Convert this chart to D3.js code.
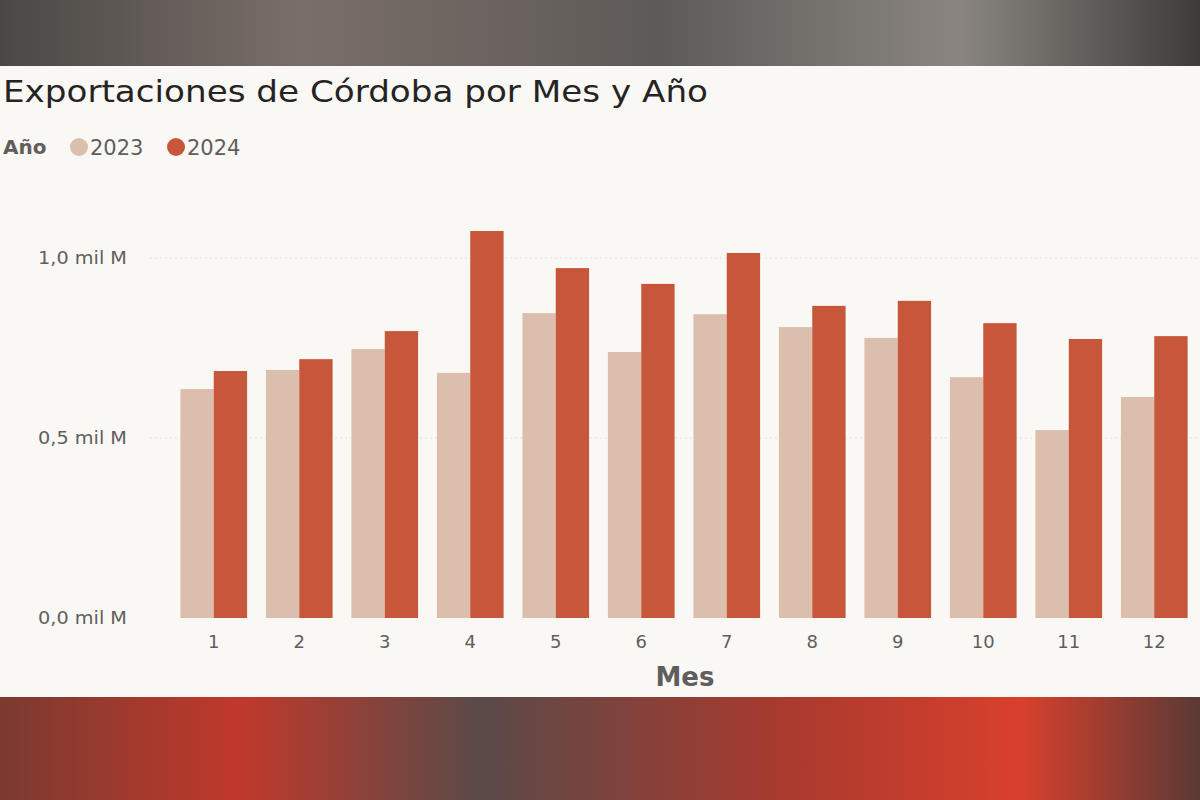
<!DOCTYPE html>
<html><head><meta charset="utf-8">
<script src="https://cdn.jsdelivr.net/npm/d3@7"></script>
<style>body{margin:0;overflow:hidden;font-family:"DejaVu Sans",sans-serif}</style>
</head><body><svg id="chart" width="1200" height="800"></svg>
<script>
const months = [1,2,3,4,5,6,7,8,9,10,11,12];
const years = ["2023","2024"];
const values2023 = [0.636,0.689,0.747,0.681,0.847,0.739,0.844,0.808,0.778,0.669,0.522,0.614];
const values2024 = [0.686,0.719,0.797,1.075,0.972,0.928,1.014,0.867,0.881,0.819,0.775,0.783];
const yTicks = [0, 0.5, 1.0];
const colors = {"2023":"#dbbfac","2024":"#c6573a"};

const svg = d3.select('#chart');

// blurred photo-like backdrop
const defs = svg.append('defs');
const gTop = defs.append('linearGradient').attr('id','topbg');
[['0%','#4a4845'],['25%','#7a6e68'],['55%','#5e5a57'],['80%','#8a8580'],['100%','#3e3c3a']]
    .forEach(s => gTop.append('stop').attr('offset', s[0]).attr('stop-color', s[1]));
const gBot = defs.append('linearGradient').attr('id','botbg');
[['0%','#7a3a30'],['20%','#c0392b'],['40%','#5a4a48'],['65%','#a83a2e'],['85%','#d8402c'],['100%','#5a3a35']]
    .forEach(s => gBot.append('stop').attr('offset', s[0]).attr('stop-color', s[1]));
svg.append('rect').attr('width',1200).attr('height',66).attr('fill','url(#topbg)');
svg.append('rect').attr('y',697).attr('width',1200).attr('height',103).attr('fill','url(#botbg)');
svg.append('rect').attr('y',66).attr('width',1200).attr('height',631).attr('fill','#faf8f5');

const xScale = d3.scaleBand().domain(months).range([171, 1197]).paddingInner(0.22).paddingOuter(0.11);
const xSub = d3.scaleBand().domain(years).range([0, xScale.bandwidth()]);
const yScale = d3.scaleLinear().domain([0, 1]).range([618, 258]);

// gridlines
svg.append('g').selectAll('line').data(yTicks.filter(d => d > 0)).enter().append('line')
    .attr('x1', 150).attr('x2', 1200)
    .attr('y1', d => yScale(d)).attr('y2', d => yScale(d))
    .attr('stroke', '#e4e0dc').attr('stroke-dasharray', '2,3');

// y labels
svg.append('g').selectAll('text').data(yTicks).enter().append('text')
    .attr('x', 38).attr('y', d => yScale(d) + 6)
    .attr('font-size', 17).attr('fill', '#605e5c')
    .attr('textLength', 89).attr('lengthAdjust', 'spacingAndGlyphs')
    .text(d => d.toFixed(1).replace('.', ',') + ' mil M');

const data = months.map((m, i) => ({ month: m, vals: [
    { year: "2023", value: values2023[i] }, { year: "2024", value: values2024[i] }] }));

svg.append('g').selectAll('g').data(data).enter().append('g')
    .attr('transform', d => `translate(${xScale(d.month)},0)`)
    .selectAll('rect').data(d => d.vals).enter().append('rect')
    .attr('x', d => xSub(d.year))
    .attr('width', xSub.bandwidth())
    .attr('y', d => yScale(d.value))
    .attr('height', d => yScale(0) - yScale(d.value))
    .attr('fill', d => colors[d.year]);

// x axis labels
svg.append('g').selectAll('text').data(months).enter().append('text')
    .attr('x', d => xScale(d) + xScale.bandwidth() / 2).attr('y', 648)
    .attr('text-anchor', 'middle').attr('font-size', 18).attr('fill', '#605e5c')
    .text(d => d);

svg.append('text').attr('x', 685).attr('y', 686).attr('text-anchor', 'middle')
    .attr('font-size', 26).attr('font-weight', 'bold').attr('fill', '#605e5c').text('Mes');

svg.append('text').attr('x', 3).attr('y', 102).attr('font-size', 31).attr('fill', '#252423')
    .attr('textLength', 705).attr('lengthAdjust', 'spacingAndGlyphs')
    .text('Exportaciones de Córdoba por Mes y Año');

// legend
svg.append('text').attr('x', 3).attr('y', 154).attr('font-size', 20).attr('font-weight', 'bold')
    .attr('fill', '#605e5c').text('Año');
const legendX = [79, 176];
years.forEach((y, i) => {
    svg.append('circle').attr('cx', legendX[i]).attr('cy', 147).attr('r', 9).attr('fill', colors[y]);
    svg.append('text').attr('x', legendX[i] + 11).attr('y', 155).attr('font-size', 21)
        .attr('fill', '#605e5c').text(y);
});
</script></body></html>
